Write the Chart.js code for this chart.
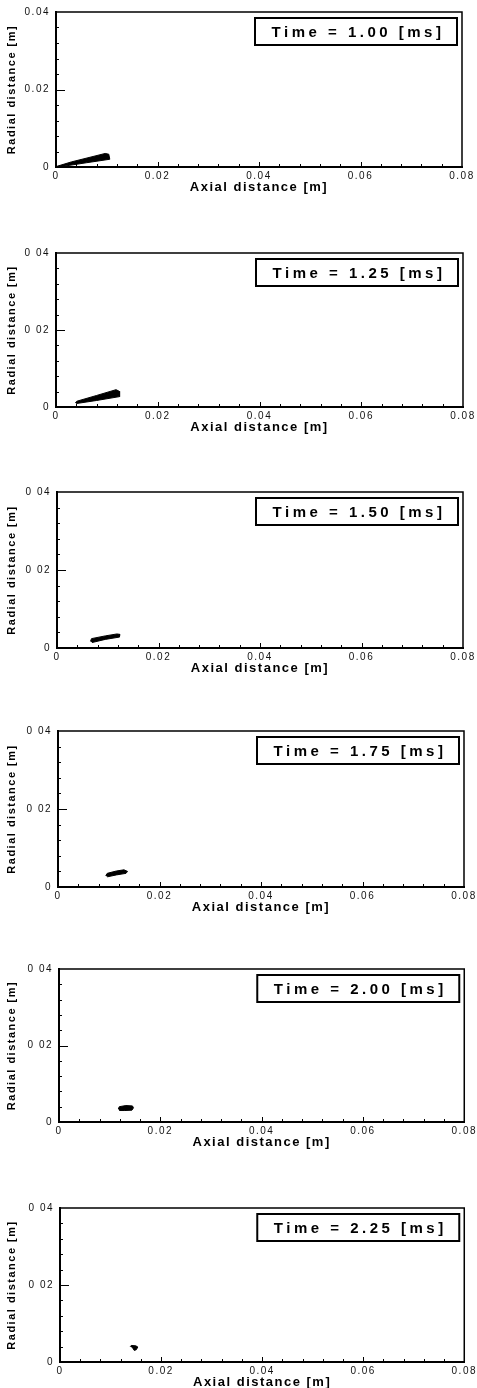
<!DOCTYPE html>
<html>
<head>
<meta charset="utf-8">
<script src="https://cdn.jsdelivr.net/npm/chart.js@4.4.1/dist/chart.umd.min.js"></script>
<style>
  body { margin: 0; background: #fff; }
  #page { position: relative; width: 477px; height: 1388px; }
  .panel { position: absolute; left: 0; width: 477px; }
</style>
</head>
<body>
<div id="page"></div>
<script>
// Snapshot times [ms]
const times = ['1.00', '1.25', '1.50', '1.75', '2.00', '2.25'];

// Axis tick labels
const axialLabels = ['0', '0.02', '0.04', '0.06', '0.08'];
const radialLabelsFirst = ['0', '0.02', '0.04'];
const radialLabels = ['0', '0 02', '0 04'];

// Spray outline (axial x, radial y) in metres, one pair per snapshot
const sprayX_100 = [0.0000, 0.0030, 0.0097, 0.0104, 0.0106, 0.0060, 0.0010];
const sprayY_100 = [0.0001, 0.0013, 0.0035, 0.0033, 0.0020, 0.0011, 0.0001];

const sprayX_125 = [0.0038, 0.0041, 0.0080, 0.0118, 0.0124, 0.0125, 0.0080, 0.0040];
const sprayY_125 = [0.0011, 0.0015, 0.0030, 0.0045, 0.0041, 0.0027, 0.0017, 0.0009];

const sprayX_150 = [0.0066, 0.0068, 0.0095, 0.0118, 0.0124, 0.0123, 0.0095, 0.0069];
const sprayY_150 = [0.0017, 0.0024, 0.0031, 0.0036, 0.0035, 0.0028, 0.0022, 0.0014];

const sprayX_175 = [0.0094, 0.0097, 0.0115, 0.0130, 0.0137, 0.0134, 0.0115, 0.0097];
const sprayY_175 = [0.0029, 0.0035, 0.0041, 0.0044, 0.0040, 0.0035, 0.0031, 0.0026];

const sprayX_200 = [0.0117, 0.0119, 0.0132, 0.0145, 0.0147, 0.0144, 0.0130, 0.0119];
const sprayY_200 = [0.0034, 0.0040, 0.0043, 0.0042, 0.0037, 0.0031, 0.0030, 0.0030];

const sprayX_225 = [0.0139, 0.0141, 0.0150, 0.0154, 0.0151, 0.0147, 0.0144];
const sprayY_225 = [0.0040, 0.0043, 0.0042, 0.0039, 0.0032, 0.0030, 0.0036];

const sprayX = [sprayX_100, sprayX_125, sprayX_150, sprayX_175, sprayX_200, sprayX_225];
const sprayY = [sprayY_100, sprayY_125, sprayY_150, sprayY_175, sprayY_200, sprayY_225];

// Plot frame of each panel on the page: top, bottom, left, right (px)
const frames = [
    [8, 167, 56, 462],
    [249, 407, 56, 463],
    [488, 648, 57, 463],
    [727, 887, 58, 464],
    [965, 1122, 59, 466],
    [1204, 1362, 60, 468]
];

const FONT = "'Liberation Sans', Arial, sans-serif";
const PAD_TOP = 8;
const XAXIS_H = 33;

// spread the letters a bit like the scanned original
const letterSpacing = {
    id: 'letterSpacing',
    beforeDraw(chart) {
        chart.ctx.letterSpacing = '1.5px';
    }
};

// top/right frame lines and inward tick marks
const frameTicks = {
    id: 'frameTicks',
    afterDatasetsDraw(chart) {
        const {ctx, chartArea: a, scales} = chart;
        ctx.save();
        ctx.strokeStyle = '#000';
        ctx.lineWidth = 1.5;
        ctx.beginPath();
        ctx.moveTo(a.left, a.top);
        ctx.lineTo(a.right, a.top);
        ctx.lineTo(a.right, a.bottom);
        ctx.stroke();

        ctx.lineWidth = 1;
        ctx.beginPath();
        for (let i = 1; i < 20; i++) {
            const px = Math.round(scales.x.getPixelForValue(i * 0.004)) + 0.5;
            const len = i % 5 === 0 ? 5 : 3;
            ctx.moveTo(px, a.bottom);
            ctx.lineTo(px, a.bottom - len);
        }
        for (let i = 1; i < 10; i++) {
            const py = Math.round(scales.y.getPixelForValue(i * 0.004)) + 0.5;
            const len = i % 5 === 0 ? 9 : 3;
            ctx.moveTo(a.left, py);
            ctx.lineTo(a.left + len, py);
        }
        ctx.stroke();
        ctx.restore();
    }
};

// boxed time stamp in the upper right corner
const timeBox = {
    id: 'timeBox',
    afterDraw(chart, args, opts) {
        const {ctx, chartArea: a} = chart;
        const w = 202, h = 27;
        const left = a.right - 5 - w;
        const top = a.top + 6;
        ctx.save();
        ctx.fillStyle = '#fff';
        ctx.fillRect(left, top, w, h);
        ctx.strokeStyle = '#000';
        ctx.lineWidth = 2;
        ctx.strokeRect(left, top, w, h);
        ctx.letterSpacing = '3.5px';
        ctx.font = 'bold 15px ' + FONT;
        ctx.fillStyle = '#000';
        ctx.textAlign = 'center';
        ctx.textBaseline = 'middle';
        ctx.fillText(opts.text, left + w / 2 + 2, top + h / 2 + 1);
        ctx.restore();
    }
};

function createPanel(i) {
    const [top, bottom, left, right] = frames[i];
    const height = PAD_TOP + (bottom - top) + XAXIS_H;

    const div = document.createElement('div');
    div.className = 'panel';
    div.style.top = (top - PAD_TOP) + 'px';
    div.style.height = height + 'px';
    const canvas = document.createElement('canvas');
    canvas.width = 477;
    canvas.height = height;
    div.appendChild(canvas);
    document.getElementById('page').appendChild(div);

    const points = sprayX[i].map((x, k) => ({x: x, y: sprayY[i][k]}));
    const yLabels = i === 0 ? radialLabelsFirst : radialLabels;

    new Chart(canvas, {
        type: 'line',
        data: {
            datasets: [{
                label: 'Spray',
                data: points,
                borderColor: '#000',
                backgroundColor: '#000',
                borderWidth: 1,
                pointRadius: 0,
                tension: 0,
                fill: 'shape'
            }]
        },
        options: {
            responsive: false,
            animation: false,
            layout: {padding: {top: PAD_TOP, left: 0, right: 477 - right, bottom: 0}},
            plugins: {
                legend: {display: false},
                tooltip: {enabled: false},
                timeBox: {text: 'Time = ' + times[i] + ' [ms]'}
            },
            scales: {
                x: {
                    type: 'linear',
                    min: 0,
                    max: 0.08,
                    grid: {display: false, drawTicks: false},
                    border: {display: true, color: '#000', width: 2},
                    ticks: {
                        stepSize: 0.02,
                        padding: 3,
                        maxRotation: 0,
                        color: '#111',
                        font: {family: FONT, size: 10},
                        callback: (v) => axialLabels[Math.round(v / 0.02)]
                    },
                    title: {
                        display: true,
                        text: 'Axial distance [m]',
                        color: '#000',
                        font: {family: FONT, size: 13, weight: 'bold'},
                        padding: {top: 0, bottom: 5}
                    },
                    afterFit: (scale) => { scale.height = XAXIS_H; }
                },
                y: {
                    type: 'linear',
                    min: 0,
                    max: 0.04,
                    grid: {display: false, drawTicks: false},
                    border: {display: true, color: '#000', width: 2},
                    ticks: {
                        stepSize: 0.02,
                        padding: 6,
                        color: '#111',
                        font: {family: FONT, size: 10},
                        callback: (v) => yLabels[Math.round(v / 0.02)]
                    },
                    title: {
                        display: true,
                        text: 'Radial distance [m]',
                        color: '#000',
                        font: {family: FONT, size: 11, weight: 'bold'},
                        padding: {top: 5, bottom: 0}
                    },
                    afterFit: (scale) => { scale.width = left; }
                }
            }
        },
        plugins: [letterSpacing, frameTicks, timeBox]
    });
}

for (let i = 0; i < times.length; i++) {
    createPanel(i);
}
</script>
</body>
</html>
